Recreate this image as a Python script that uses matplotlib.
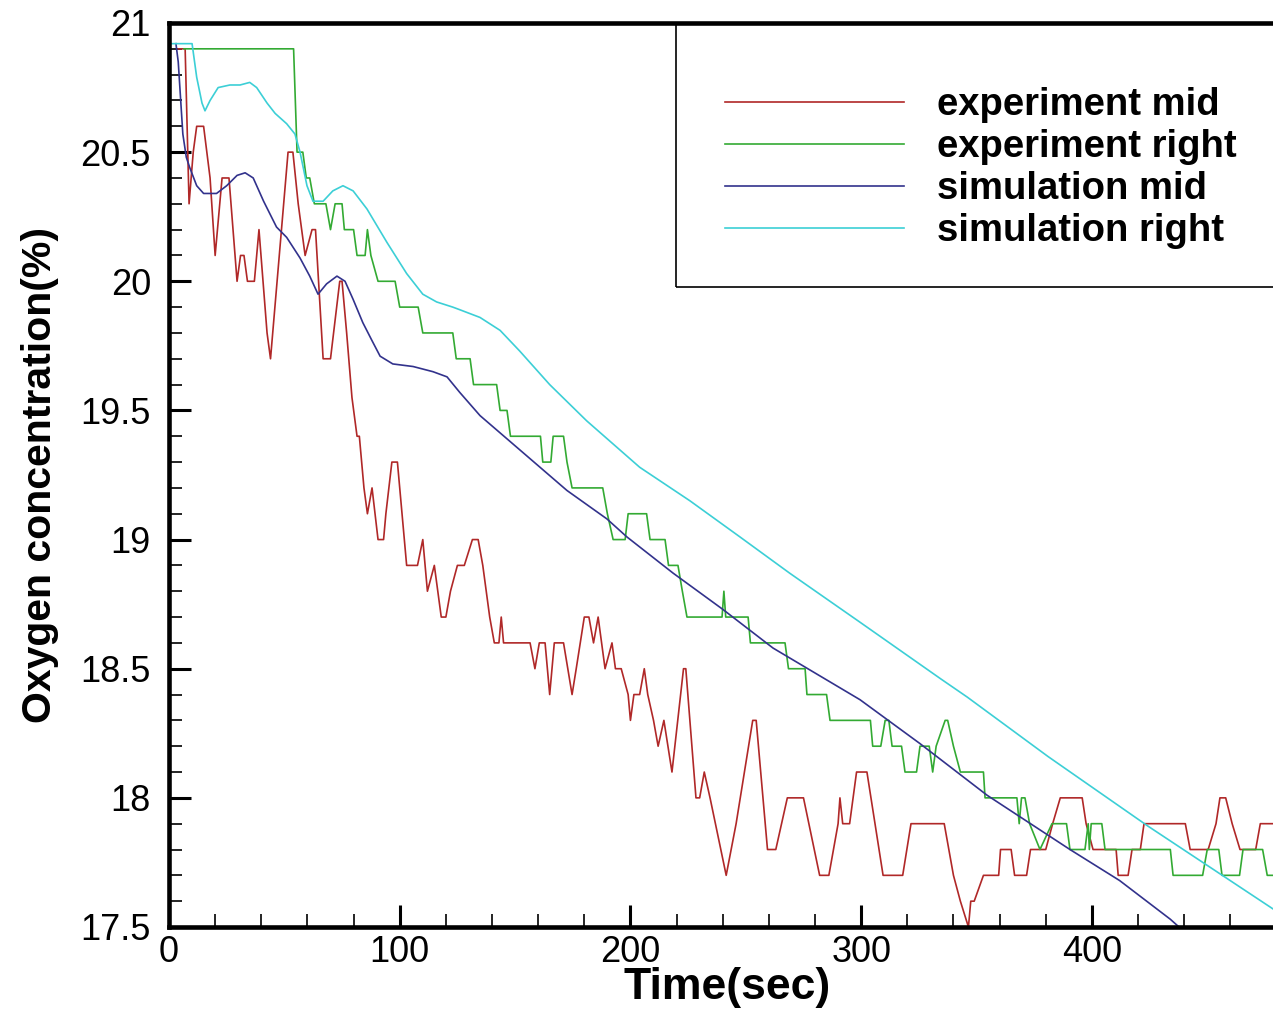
import numpy as np
import matplotlib
matplotlib.use("Agg")
import matplotlib.pyplot as plt
from matplotlib.patches import Rectangle
from matplotlib.ticker import MultipleLocator

# data (time in s, oxygen in %)

exp_mid_t = [4, 7, 8.7, 10.5, 12, 15, 17.8, 20, 23, 26, 29.5, 31, 32.5, 34, 37, 39, 42.5, 44, 51.6, 53.7,
             56, 59, 62, 63.5, 66.8, 70, 74, 75, 77, 79.3, 81.5, 82.5, 84.5, 86, 88, 90.6, 93, 94, 96.6, 99,
             103, 107.7, 110, 112, 115, 118, 120, 122, 125, 128, 131.5, 134, 136, 139, 141, 143, 144, 145,
             156.5, 158.6, 160.5, 163, 165, 167, 171, 174.7, 176.5, 180, 182, 184, 186, 189, 192, 193.5,
             196, 199, 200, 201.5, 204, 206, 207.5, 210, 212, 214.5, 218, 223, 224, 228.4, 230, 232, 234.5,
             241.5, 245.8, 253, 254.5, 259.4, 263, 268, 275, 282, 286, 290, 290.8, 292, 295, 298, 302.5,
             309.5, 318, 321.6, 336, 340, 343, 346.5, 347.5, 349, 353, 359.6, 360.4, 365, 366.5, 371.7,
             373.4, 380, 383, 386.3, 395.8, 397.5, 400.5, 410.5, 411.4, 415.7, 417.4, 421, 422.6, 440.5,
             442.6, 450.4, 453.8, 455.5, 458, 460.8, 464.2, 471, 473, 480]
exp_mid_y = [20.9, 20.9, 20.3, 20.5, 20.6, 20.6, 20.4, 20.1, 20.4, 20.4, 20.0, 20.1, 20.1, 20.0, 20.0, 20.2,
             19.8, 19.7, 20.5, 20.5, 20.3, 20.1, 20.2, 20.2, 19.7, 19.7, 20.0, 20.0, 19.8, 19.55, 19.4, 19.4,
             19.2, 19.1, 19.2, 19.0, 19.0, 19.1, 19.3, 19.3, 18.9, 18.9, 19.0, 18.8, 18.9, 18.7, 18.7, 18.8,
             18.9, 18.9, 19.0, 19.0, 18.9, 18.7, 18.6, 18.6, 18.7, 18.6, 18.6, 18.5, 18.6, 18.6, 18.4, 18.6,
             18.6, 18.4, 18.5, 18.7, 18.7, 18.6, 18.7, 18.5, 18.6, 18.5, 18.5, 18.4, 18.3, 18.4, 18.4, 18.5,
             18.4, 18.3, 18.2, 18.3, 18.1, 18.5, 18.5, 18.0, 18.0, 18.1, 18.0, 17.7, 17.9, 18.3, 18.3, 17.8,
             17.8, 18.0, 18.0, 17.7, 17.7, 17.9, 18.0, 17.9, 17.9, 18.1, 18.1, 17.7, 17.7, 17.9, 17.9, 17.7,
             17.6, 17.5, 17.6, 17.6, 17.7, 17.7, 17.8, 17.8, 17.7, 17.7, 17.8, 17.8, 17.9, 18.0, 18.0, 17.9,
             17.8, 17.8, 17.7, 17.7, 17.8, 17.8, 17.9, 17.9, 17.8, 17.8, 17.9, 18.0, 18.0, 17.9, 17.8, 17.8,
             17.9, 17.9]

exp_right_t = [6.5, 54, 55.5, 58, 59.5, 61, 63, 68, 70, 72, 75, 76, 80, 81.5, 85, 86, 87.5, 90.6, 98, 100,
               108, 110, 123, 124.5, 130.5, 132, 142, 143.5, 146.5, 148, 161, 162, 165.5, 166.5, 171, 172.5,
               174.7, 188, 190, 192.5, 197.7, 199, 207, 208.5, 215, 216.5, 220.6, 222.5, 224.5, 239.7, 240.5,
               241.3, 251, 252, 267, 268.5, 275.7, 276.5, 285, 286.5, 304, 305, 308.5, 310.4, 312, 313.4,
               317.5, 319, 324, 325.5, 329.5, 331, 332.5, 336.4, 337.5, 340, 343, 353, 353.7, 367.5, 368.5,
               369.5, 371, 373, 377.5, 382.7, 389, 390.5, 397, 398.4, 398.9, 399.7, 404.3, 405.7, 434, 435.2,
               448, 450, 455, 456.4, 464, 465.5, 474, 476, 480]
exp_right_y = [20.9, 20.9, 20.5, 20.5, 20.4, 20.4, 20.3, 20.3, 20.2, 20.3, 20.3, 20.2, 20.2, 20.1, 20.1,
               20.2, 20.1, 20.0, 20.0, 19.9, 19.9, 19.8, 19.8, 19.7, 19.7, 19.6, 19.6, 19.5, 19.5, 19.4, 19.4,
               19.3, 19.3, 19.4, 19.4, 19.3, 19.2, 19.2, 19.1, 19.0, 19.0, 19.1, 19.1, 19.0, 19.0, 18.9, 18.9,
               18.8, 18.7, 18.7, 18.8, 18.7, 18.7, 18.6, 18.6, 18.5, 18.5, 18.4, 18.4, 18.3, 18.3, 18.2, 18.2,
               18.3, 18.3, 18.2, 18.2, 18.1, 18.1, 18.2, 18.2, 18.1, 18.2, 18.3, 18.3, 18.2, 18.1, 18.1, 18.0,
               18.0, 17.9, 18.0, 18.0, 17.9, 17.8, 17.9, 17.9, 17.8, 17.8, 17.9, 17.8, 17.9, 17.9, 17.8, 17.8,
               17.7, 17.7, 17.8, 17.8, 17.7, 17.7, 17.8, 17.8, 17.7, 17.7]

sim_mid_t = [3, 4, 6, 7.5, 9, 12, 15, 20.6, 25, 29.5, 33, 36.5, 41, 46.6, 51, 56.8, 61, 64.6, 68.3, 72.8,
             76.3, 79.8, 84, 88, 91.5, 97, 105.8, 114.4, 120.5, 126, 134.8, 146.5, 160.8, 172.5, 189.8,
             198.5, 218.5, 240, 261.8, 299.5, 325.5, 354.6, 390.5, 412, 434, 439]
sim_mid_y = [20.92, 20.85, 20.57, 20.48, 20.44, 20.37, 20.34, 20.34, 20.37, 20.41, 20.42, 20.40, 20.31,
             20.21, 20.17, 20.09, 20.02, 19.95, 19.99, 20.02, 20.00, 19.93, 19.84, 19.77, 19.71, 19.68, 19.67,
             19.65, 19.63, 19.57, 19.48, 19.39, 19.28, 19.19, 19.08, 19.01, 18.87, 18.73, 18.58, 18.38, 18.21,
             18.01, 17.80, 17.68, 17.53, 17.49]

sim_right_t = [1, 10, 12, 14.3, 15.6, 17.8, 21.3, 26.4, 30.8, 35, 38, 42.5, 46, 51, 54.6, 56.8, 59.8, 62.4,
               66.8, 71, 75.4, 79.8, 85.8, 94.5, 103, 110, 116, 123, 126, 134.8, 143.5, 152, 165, 181, 204,
               225.8, 247.5, 269, 299.5, 334.6, 346, 381, 424.4, 478.5]
sim_right_y = [20.92, 20.92, 20.79, 20.69, 20.66, 20.70, 20.75, 20.76, 20.76, 20.77, 20.75, 20.69, 20.65,
               20.61, 20.57, 20.50, 20.37, 20.31, 20.31, 20.35, 20.37, 20.35, 20.28, 20.15, 20.03, 19.95,
               19.92, 19.90, 19.89, 19.86, 19.81, 19.73, 19.60, 19.46, 19.28, 19.15, 19.01, 18.87, 18.68,
               18.46, 18.39, 18.16, 17.89, 17.57]

series_labels = ["experiment mid", "experiment right", "simulation mid", "simulation right"]
series_colors = ["#b02828", "#33aa33", "#32328c", "#3ccfd6"]

xtick_values = [0, 100, 200, 300, 400]
xtick_labels = ["0", "100", "200", "300", "400"]
ytick_values = [17.5, 18, 18.5, 19, 19.5, 20, 20.5, 21]
ytick_labels = ["17.5", "18", "18.5", "19", "19.5", "20", "20.5", "21"]

plt.rcParams["font.family"] = ["Liberation Sans", "DejaVu Sans"]

fig = plt.figure(figsize=(12.73, 10.10), dpi=100)
ax = fig.add_axes([169 / 1273, 83 / 1010, 1 - 169 / 1273, 904 / 1010])

all_t = [exp_mid_t, exp_right_t, sim_mid_t, sim_right_t]
all_y = [exp_mid_y, exp_right_y, sim_mid_y, sim_right_y]
for t, y, lab, col in zip(all_t, all_y, series_labels, series_colors):
    ax.plot(t, y, color=col, lw=1.2, label=lab)

ax.set_xlim(0, 478.5)
ax.set_ylim(17.5, 21)

ax.set_xticks(xtick_values)
ax.set_xticklabels(xtick_labels)
ax.set_yticks(ytick_values)
ax.set_yticklabels(ytick_labels)
ax.xaxis.set_minor_locator(MultipleLocator(20))
ax.yaxis.set_minor_locator(MultipleLocator(0.1))
ax.tick_params(which="major", direction="in", length=16, width=2.2)
ax.tick_params(which="minor", direction="in", length=9.5, width=1.2)
ax.tick_params(axis="y", which="major", labelsize=26, pad=13)
ax.tick_params(axis="x", which="major", labelsize=26, pad=6)

for side in ["left", "bottom", "top"]:
    ax.spines[side].set_linewidth(3.3)
ax.spines["right"].set_visible(False)

ax.set_xlabel("Time(sec)", fontsize=32, fontweight="bold")
ax.set_ylabel("Oxygen concentration(%)", fontsize=29.5, fontweight="bold")
ax.xaxis.set_label_coords(0.506, -0.044)
ax.yaxis.set_label_coords(-0.100, 0.5)

# legend box hangs off the right edge of the picture
box = Rectangle((0.459, 0.708), 0.7, 0.292, transform=ax.transAxes, fill=False,
                lw=1.2, edgecolor="black", clip_on=False, zorder=5)
ax.add_patch(box)
leg = ax.legend(loc="upper left", bbox_to_anchor=(725 / 1273, 1 - 87 / 1010),
                bbox_transform=fig.transFigure, frameon=False, borderpad=0, borderaxespad=0,
                handlelength=4.69, handletextpad=0.86, labelspacing=0.16,
                prop={"size": 27.5, "weight": "bold"})

fig.savefig("out.png", dpi=100)
